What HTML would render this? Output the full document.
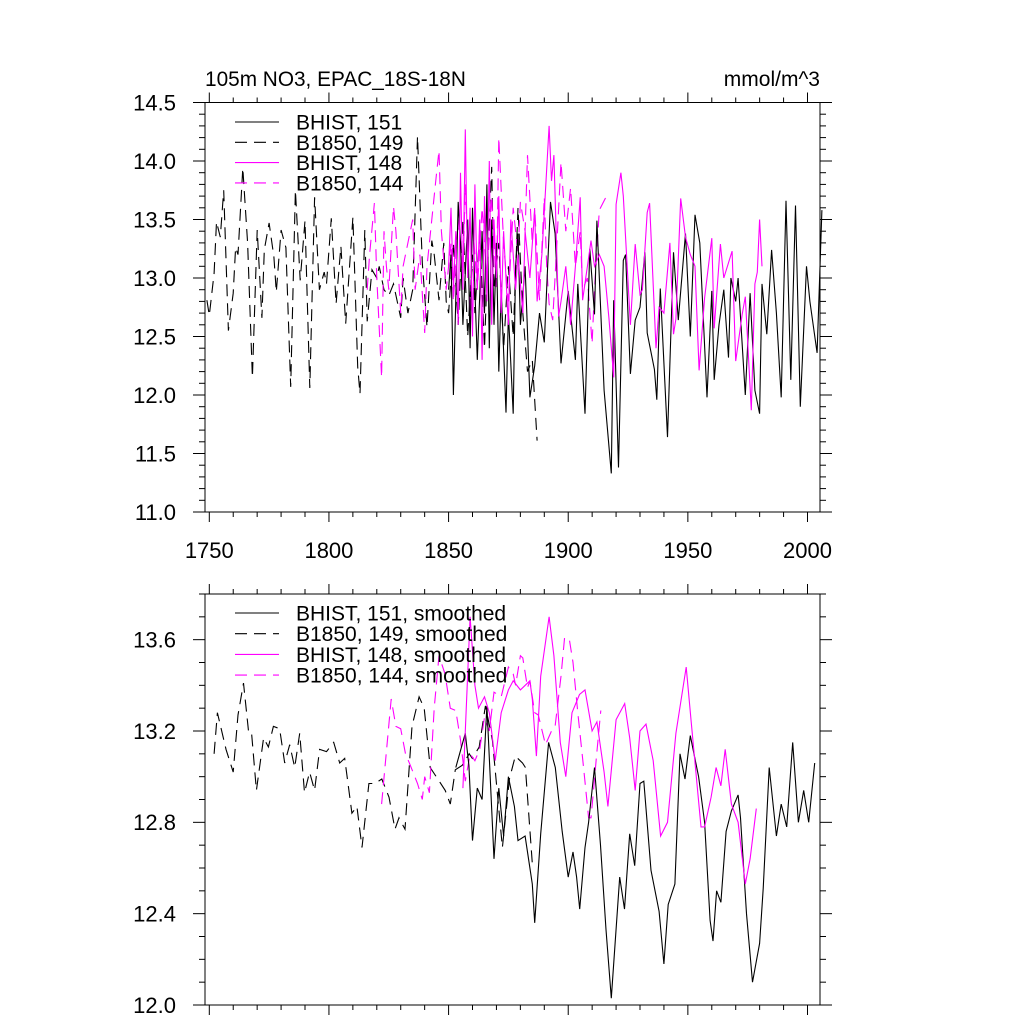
<!DOCTYPE html>
<html><head><meta charset="utf-8">
<style>
html,body{margin:0;padding:0;background:#fff;}
svg{display:block;font-family:"Liberation Sans",Arial,sans-serif;}
</style></head>
<body>
<svg id="chart" width="1024" height="1024" viewBox="0 0 1024 1024" xmlns="http://www.w3.org/2000/svg">
<rect x="0" y="0" width="1024" height="1024" fill="#fff"/>
<text x="205" y="86" font-size="20.8">105m NO3, EPAC_18S-18N</text>
<text x="820" y="86" font-size="21" text-anchor="end">mmol/m^3</text>
<g id="top"></g>
<g id="bot"></g>
</svg>
<script>
// ---------- data (top panel, annual) ----------
const b149Years=[1749,1750,1752,1753,1754.6,1756,1758,1760,1761,1762,1764,1766,1768,1770,1772,1773,1775,1777,1778,1780,1782,1784,1786,1788,1790,1792,1794,1796,1798,1799,1801,1803,1805,1807,1810,1812,1813,1815,1816,1818,1820,1821,1823,1825,1827,1830,1831,1833,1835,1837,1839,1841,1843,1844,1846,1848,1849,1850,1852,1854,1856,1858,1860,1861,1863,1865,1866,1868,1869,1871,1873,1875,1877,1879,1881,1883,1885,1887];
const b149Values=[12.81,12.68,13.04,13.48,13.35,13.75,12.55,12.87,13.26,13.2,13.94,13.3,12.15,13.41,12.66,13.24,13.47,13.18,12.88,13.41,13.26,12.07,13.75,12.98,13.49,12.06,13.69,12.9,13.05,12.95,13.51,12.78,13.27,12.61,13.52,12.24,12.01,13.41,12.63,13.07,13.0,13.1,12.9,12.85,12.95,12.66,13.0,12.7,12.9,14.21,13.13,12.58,13.32,13.2,12.81,13.3,12.8,12.7,13.3,12.6,13.5,12.5,13.2,12.7,13.4,12.4,13.0,13.95,12.9,13.3,12.4,13.1,12.5,13.6,12.7,12.2,12.3,11.61];
const b144Years=[1816,1817,1819,1820,1822,1823,1824,1825,1827,1828,1830,1831,1833,1835,1836,1838,1840,1841,1843,1845,1846,1847,1849,1851,1852,1854,1856,1857,1859,1860,1862,1864,1866,1868,1870,1871,1873,1875,1877,1879,1880,1882,1883,1885,1886,1888,1890,1891,1892,1893.5,1895,1897,1899,1901,1903,1905,1906,1908,1910,1911,1913,1916];
const b144Values=[12.9,13.2,13.64,13.0,12.15,13.4,13.1,12.9,13.61,13.4,12.7,13.1,13.3,13.5,12.9,13.2,12.53,13.1,13.5,13.9,14.09,13.4,12.9,13.3,12.8,13.5,13.0,13.8,12.7,13.5,12.9,13.6,13.0,13.7,12.9,14.2,13.3,12.8,13.6,13.2,13.65,13.4,14.05,13.3,13.6,12.81,13.69,13.1,12.78,12.64,13.2,13.99,13.4,13.77,13.1,13.4,12.9,13.0,12.44,12.9,13.58,13.7];
const h151Years=[1850,1851,1852,1854,1855,1856,1858,1859,1860,1861,1862,1864,1865,1866,1867,1868,1869,1870,1871,1872,1874,1875,1877,1878,1879,1880,1882,1884,1886,1888,1890,1892.6,1894.5,1897,1900,1903,1904,1907,1909,1911,1912,1915,1918,1919,1921,1923,1924,1926,1928,1930,1932,1933,1936,1937,1938.5,1941.5,1944,1946,1949,1951,1953,1955,1958,1960,1961,1963,1965,1967,1968,1970,1971,1974,1976,1978,1980,1981,1983,1985,1987,1989,1991,1993,1995,1997,1999.6,2001,2004,2006];
const h151Values=[12.9,13.2,12.0,13.65,13.3,12.6,13.5,12.4,13.6,12.9,12.3,13.4,12.7,13.8,12.4,13.5,12.6,13.3,12.2,12.9,11.85,12.7,11.84,13.1,13.38,12.6,13.1,11.98,12.25,12.7,12.45,13.65,13.38,12.27,12.89,12.3,12.95,11.84,13.25,12.69,13.49,12.04,11.33,12.81,11.38,13.15,13.2,12.18,12.64,12.75,13.22,12.53,12.22,11.96,12.91,11.64,13.22,12.64,13.38,12.5,13.54,13.3,11.98,12.89,12.13,12.6,12.9,12.32,13.0,12.8,13.0,12.0,12.87,12.04,11.84,12.95,12.52,13.24,12.7,11.98,13.66,12.13,13.62,11.9,13.1,12.8,12.36,13.58];
const h148Years=[1850,1851,1852,1853,1854,1855,1856,1857,1858,1859,1860,1861,1862,1863,1864,1865,1866,1867,1868,1869,1870,1871,1872,1873,1875,1876,1878,1879,1881,1882,1884,1886,1887,1889,1892,1893,1894,1896,1897,1899,1901,1903,1905,1906,1908,1909.5,1911,1913,1915,1917,1919,1920,1922,1923,1926,1928,1930,1931,1933,1934,1936.7,1938,1940,1942.5,1944,1945,1947,1949,1951,1953,1954.7,1957,1960,1961,1963.6,1965,1968.5,1970,1972.7,1974,1976.5,1978,1979,1980,1981];
const h148Values=[13.1,13.6,12.9,13.4,12.6,13.9,12.9,14.27,13.0,13.6,12.5,13.8,12.9,13.5,12.3,13.7,12.8,14.0,12.6,13.5,13.0,13.7,12.7,13.4,12.6,13.5,12.9,13.2,12.7,13.4,13.0,13.58,12.8,13.2,14.3,13.83,14.05,12.67,12.8,13.1,12.6,13.1,13.69,12.81,13.1,13.32,13.1,13.2,13.1,12.66,12.15,13.63,13.9,13.7,12.6,13.29,12.86,12.9,13.56,13.64,12.4,12.75,12.7,13.3,12.52,12.65,13.68,13.35,13.2,13.1,12.21,12.83,13.34,12.57,13.29,13.0,13.23,12.29,12.69,12.84,11.87,12.95,13.05,13.5,13.1];
// ---------- data (bottom panel, smoothed) ----------
const s149Years=[1752,1753.4,1757,1760,1762,1764.3,1766.4,1767.6,1769.7,1772.7,1774.7,1776.8,1779.4,1781.5,1783.6,1785.7,1787.8,1789.8,1791.9,1794,1796.1,1799,1802,1804.5,1806.6,1809.6,1811.7,1813.8,1816.7,1819.2,1822.1,1825.1,1827.6,1829.3,1831.8,1834.7,1837.7,1839.8,1842.3,1846.1,1848.6,1850.7,1852.8,1855.7,1858.6,1859.9,1862.8,1865.4,1868.3,1872.5,1875.4,1877.9,1880.9,1882.1,1885];
const s149Values=[13.1,13.28,13.12,13.02,13.27,13.41,13.2,13.2,12.94,13.17,13.13,13.22,13.21,13.06,13.14,13.04,13.19,12.93,13.02,12.94,13.12,13.11,13.15,13.06,13.08,12.84,12.87,12.69,12.97,12.97,12.99,12.91,12.77,12.82,12.77,13.22,13.35,13.3,13.04,12.98,12.94,12.88,13.03,13.05,13.1,13.08,13.13,13.31,13.16,12.69,12.99,13.09,13.06,13.04,12.62];
const s144Years=[1822,1826,1828,1830,1832,1834,1837,1839,1840,1842,1844,1846,1848.5,1850.7,1853,1855,1857,1859,1861,1863,1865,1867,1869,1872,1875,1877,1878,1880,1881,1883,1884,1886,1887.5,1890.5,1893,1894.5,1897,1898.5,1900.5,1902,1904,1906.5,1908.5,1909.5,1910.5,1911.8,1913.6];
const s144Values=[12.88,13.34,13.22,13.21,13.1,13.05,12.97,12.9,13.0,12.93,13.3,13.53,13.45,13.3,13.29,13.16,12.98,13.1,13.07,13.12,13.26,13.2,13.37,13.35,13.48,13.45,13.4,13.53,13.52,13.39,13.42,13.28,13.27,13.14,13.2,13.22,13.44,13.61,13.6,13.5,13.28,13.03,12.82,12.82,12.93,13.09,13.29];
const s151Years=[1853,1857,1858.5,1860,1862,1864,1866,1869,1871,1873,1875,1877.5,1879,1882,1884,1885,1886,1888.5,1891.8,1894.6,1897.5,1900,1902,1903.5,1904.8,1907,1908.5,1911,1913.5,1915.8,1918,1921.5,1923.5,1925.7,1927.8,1930,1931.6,1934.6,1938,1940,1941.8,1944.6,1946.7,1948.8,1951,1952,1954.5,1957,1959.3,1960.5,1962,1963.8,1966,1968.2,1971,1972,1974.5,1977,1980,1981.5,1984,1987,1989,1991.3,1993.8,1996.2,1998.4,2000.5,2003];
const s151Values=[13.04,13.19,13.05,12.72,12.95,12.9,13.31,12.64,12.95,12.74,13.0,12.87,12.72,12.74,12.6,12.53,12.36,12.75,13.15,13.04,12.76,12.56,12.67,12.56,12.42,12.69,12.8,13.04,12.7,12.33,12.03,12.56,12.42,12.75,12.61,12.97,12.98,12.59,12.41,12.18,12.44,12.53,13.1,12.99,13.18,13.13,13.0,12.8,12.37,12.28,12.5,12.45,12.76,12.85,12.92,12.82,12.4,12.1,12.27,12.51,13.04,12.74,12.88,12.78,13.15,12.8,12.94,12.8,13.06];
const s148Years=[1856,1859,1861,1862.5,1865,1867,1869.5,1872,1875,1877,1880,1884,1885,1886.7,1888.5,1892,1894,1896.7,1899,1901.6,1904.7,1907,1910,1912,1915,1916.6,1920,1923.6,1925.7,1928,1930,1932.5,1935.5,1938.6,1941.5,1945,1949.3,1951.4,1955.5,1957,1959.7,1961.8,1963.8,1965.6,1968.2,1971,1974,1976,1978.6];
const s148Values=[12.95,13.7,13.4,13.3,13.35,13.28,13.07,13.28,13.38,13.42,13.38,13.42,13.34,13.09,13.44,13.7,13.53,13.15,13.0,13.28,13.36,13.38,13.2,13.24,13.02,12.87,13.25,13.32,13.17,12.94,13.2,13.23,13.07,12.74,12.8,13.19,13.48,13.24,12.78,12.78,12.91,13.04,12.96,13.12,12.88,12.8,12.53,12.64,12.86];
// ---------- tick labels ----------
const xTickYears=[1750,1800,1850,1900,1950,2000];
const topYTicks=[11.0,11.5,12.0,12.5,13.0,13.5,14.0,14.5];
const botYTicks=[12.0,12.4,12.8,13.2,13.6];
const topLegend=["BHIST, 151","B1850, 149","BHIST, 148","B1850, 144"];
const botLegend=["BHIST, 151, smoothed","B1850, 149, smoothed","BHIST, 148, smoothed","B1850, 144, smoothed"];

const NS="http://www.w3.org/2000/svg";
const L=205,R=820;
const X0=1750, X1=2000, PX0=209.3, PX1=807.5;
const DASH='12,7';
function sx(yr){return PX0+(yr-X0)*(PX1-PX0)/(X1-X0);}
function mkY(vmin,vmax,top,bot){return v=>bot-(v-vmin)*(bot-top)/(vmax-vmin);}
const syT=mkY(11.0,14.5,102.5,512);
const syB=mkY(12.0,13.8,594,1005);

function el(tag,attrs,parent){const e=document.createElementNS(NS,tag);for(const k in attrs)e.setAttribute(k,attrs[k]);parent.appendChild(e);return e;}

function axes(g,top,bot,sy,ymin,ymax,major,labels,showXLabels,pname){
  const fr=el('rect',{x:L,y:top,width:R-L,height:bot-top,fill:'none',stroke:'#000','stroke-width':1},g);
  
  
  for(let yr=1750;yr<=2010;yr+=10){
    const x=sx(yr); if(x>R)continue;
    const len=(yr%50===0)?10:5;
    el('line',{x1:x,y1:top,x2:x,y2:top-len,stroke:'#000','stroke-width':1},g);
    el('line',{x1:x,y1:bot,x2:x,y2:bot+len,stroke:'#000','stroke-width':1},g);
  }
  const n=Math.round((ymax-ymin)/0.1);
  for(let i=0;i<=n;i++){
    const v=ymin+i*0.1; const y=sy(v);
    if(y<top-0.5)continue;
    const isMaj=Math.abs((v-ymin)/major-Math.round((v-ymin)/major))<1e-6;
    const len=isMaj?12:6;
    el('line',{x1:L,y1:y,x2:L-len,y2:y,stroke:'#000','stroke-width':1},g);
    el('line',{x1:R,y1:y,x2:R+len,y2:y,stroke:'#000','stroke-width':1},g);
  }
  labels.forEach(v=>{
    const t=el('text',{x:176,y:sy(v)+7.8,'font-size':22,'text-anchor':'end'},g);
    t.textContent=v.toFixed(1);
    
    
  });
  if(showXLabels){
    xTickYears.forEach(yr=>{
      const t=el('text',{x:sx(yr),y:bot+46,'font-size':22,'text-anchor':'middle'},g);
      t.textContent=yr;
      
      
    });
  }
}
function series(g,years,vals,sy,color,dash,name){
  const pts=years.map((y,i)=>sx(y).toFixed(1)+','+sy(vals[i]).toFixed(1)).join(' ');
  const p=el('polyline',{points:pts,fill:'none',stroke:color,'stroke-width':1.1,'stroke-linejoin':'miter'},g);
  if(dash)p.setAttribute('stroke-dasharray',DASH);
  
  
}
function legend(g,labels,y0,dy,pname){
  const styles=[['#000',null],['#000',DASH],['#ff00ff',null],['#ff00ff',DASH]];
  labels.forEach((lab,i)=>{
    const y=y0+i*dy;
    const ln=el('line',{x1:235,y1:y,x2:279,y2:y,stroke:styles[i][0],'stroke-width':1.1},g);
    if(styles[i][1])ln.setAttribute('stroke-dasharray',styles[i][1]);
    
    
    const t=el('text',{x:296,y:y+7.5,'font-size':21},g);
    t.textContent=lab;
    
    
  });
}
const gt=document.getElementById('top');


axes(gt,102.5,512,syT,11.0,14.5,0.5,topYTicks,true,'top');
series(gt,b149Years,b149Values,syT,'#000',true,'b1850-149-line');
series(gt,b144Years,b144Values,syT,'#ff00ff',true,'b1850-144-line');
series(gt,h151Years,h151Values,syT,'#000',false,'bhist-151-line');
series(gt,h148Years,h148Values,syT,'#ff00ff',false,'bhist-148-line');
legend(gt,topLegend,122,20.3,'top');

const gb=document.getElementById('bot');


axes(gb,594,1005,syB,12.0,13.8,0.4,botYTicks,false,'bottom');
series(gb,s149Years,s149Values,syB,'#000',true,'b1850-149-smoothed-line');
series(gb,s144Years,s144Values,syB,'#ff00ff',true,'b1850-144-smoothed-line');
series(gb,s151Years,s151Values,syB,'#000',false,'bhist-151-smoothed-line');
series(gb,s148Years,s148Values,syB,'#ff00ff',false,'bhist-148-smoothed-line');
legend(gb,botLegend,613,20.7,'bottom');
</script>
</body></html>
